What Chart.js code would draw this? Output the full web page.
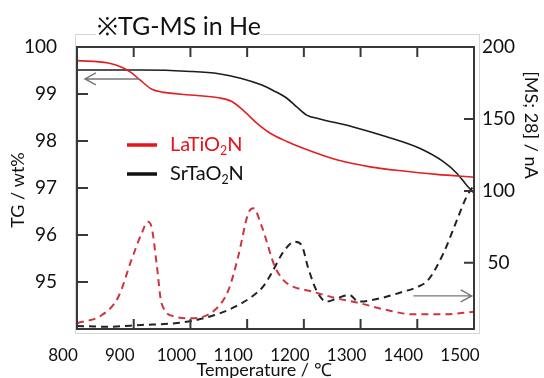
<!DOCTYPE html>
<html>
<head>
<meta charset="utf-8">
<title>TG-MS in He</title>
<style>
  body { margin: 0; background: #fff; }
  #wrap { width: 544px; height: 378px; }
</style>
</head>
<body>
<div id="wrap"><canvas id="tgChart" width="544" height="378"></canvas></div>
<script src="https://cdn.jsdelivr.net/npm/chart.js@4.4.1/dist/chart.umd.min.js"></script>
<script>
// values (temperature in deg C)
var tempLaTG = [800, 855, 879, 895, 911, 932, 950, 1000, 1050, 1073, 1096, 1117, 1140, 1170, 1200, 1258, 1317, 1375, 1434, 1500];
var laTG     = [99.71, 99.66, 99.57, 99.46, 99.30, 99.10, 99.04, 98.98, 98.92, 98.84, 98.62, 98.38, 98.17, 97.99, 97.84, 97.60, 97.45, 97.36, 97.29, 97.23];

var tempSrTG = [800, 914, 1000, 1050, 1090, 1126, 1145, 1170, 1187, 1205, 1228, 1287, 1346, 1405, 1446, 1470, 1487, 1500];
var srTG     = [99.51, 99.51, 99.48, 99.43, 99.33, 99.19, 99.08, 98.91, 98.73, 98.55, 98.47, 98.30, 98.09, 97.84, 97.56, 97.31, 97.06, 96.89];

var tempLaMS = [800, 844, 873, 896, 914, 925, 932, 941, 949, 973, 1002, 1043, 1067, 1084, 1102, 1111, 1126, 1149, 1164, 1181, 1211, 1258, 1299, 1346, 1393, 1446, 1500];
var laMS     = [8, 13.7, 26.4, 52, 70.5, 78.6, 74, 47.3, 21.9, 12.6, 11.4, 17.2, 31, 54, 84.4, 87.9, 75, 47.3, 38, 33.4, 30.4, 25.3, 21.9, 17.2, 14.2, 14.2, 16];

var tempSrMS = [800, 855, 914, 973, 1002, 1043, 1079, 1108, 1128, 1143, 1164, 1184, 1196, 1207, 1222, 1240, 1258, 1281, 1296, 1334, 1375, 1399, 1419, 1446, 1470, 1487, 1500];
var srMS     = [6.1, 5.6, 6.8, 8, 9.6, 13.7, 19.5, 26.4, 33.4, 42.7, 57.7, 64.7, 62.4, 47.3, 31, 23, 25.3, 27.6, 23, 25.3, 29.9, 33, 38, 56.6, 79.8, 96, 104];

var xTicks  = [800, 900, 1000, 1100, 1200, 1300, 1400, 1500];
var tgTicks = [95, 96, 97, 98, 99, 100];
var msTicks = [50, 100, 150, 200];

var seriesNames = ['LaTiO2N', 'SrTaO2N'];

// arrows: [from temp, to temp, axis value]
var arrowTG = [910, 814, 99.32];
var arrowMS = [1393, 1496, 27];

function pts(xs, ys) {
  return xs.map(function (x, i) { return {x: x, y: ys[i]}; });
}
function plain(v) { return String(v); }

// draws text, digits become subscripts
function subText(ctx, str, x, y, size) {
  var parts = str.match(/\d+|\D+/g);
  parts.forEach(function (p) {
    var sub = /\d/.test(p);
    ctx.font = (sub ? size * 0.62 : size) + 'px Lato';
    ctx.fillText(p, x, sub ? y + size * 0.28 : y);
    x += ctx.measureText(p).width;
  });
}

function arrow(ctx, x1, x2, y) {
  var d = x2 > x1 ? -1 : 1;
  ctx.beginPath();
  ctx.moveTo(x1, y); ctx.lineTo(x2, y);
  ctx.moveTo(x2 + d * 11, y - 6); ctx.lineTo(x2, y); ctx.lineTo(x2 + d * 11, y + 6);
  ctx.stroke();
}

var decor = {
  id: 'decor',
  beforeDraw: function (chart) {
    var ctx = chart.ctx, a = chart.chartArea;
    ctx.save();
    ctx.strokeStyle = '#d6d6d6';
    ctx.lineWidth = 1;
    ctx.strokeRect(a.left - 1.5, a.top - 12.5, a.right - a.left + 7, a.bottom - a.top + 17);
    ctx.restore();
  },
  afterDraw: function (chart) {
    var ctx = chart.ctx, a = chart.chartArea;
    var sx = chart.scales.x, st = chart.scales.yTG, sm = chart.scales.yMS;
    ctx.save();

    // frame + inward ticks
    ctx.strokeStyle = '#383838';
    ctx.lineWidth = 2;
    ctx.strokeRect(a.left, a.top, a.right - a.left, a.bottom - a.top);
    ctx.beginPath();
    xTicks.forEach(function (v) {
      var px = sx.getPixelForValue(v);
      ctx.moveTo(px, a.bottom); ctx.lineTo(px, a.bottom - 10);
      ctx.moveTo(px, a.top); ctx.lineTo(px, a.top + 10);
    });
    tgTicks.forEach(function (v) {
      var py = st.getPixelForValue(v);
      ctx.moveTo(a.left, py); ctx.lineTo(a.left + 11, py);
    });
    msTicks.forEach(function (v) {
      var py = sm.getPixelForValue(v);
      ctx.moveTo(a.right, py); ctx.lineTo(a.right - 10, py);
    });
    ctx.stroke();

    // arrows
    ctx.strokeStyle = '#777';
    ctx.lineWidth = 1.4;
    arrow(ctx, sx.getPixelForValue(arrowTG[0]), sx.getPixelForValue(arrowTG[1]), st.getPixelForValue(arrowTG[2]));
    arrow(ctx, sx.getPixelForValue(arrowMS[0]), sx.getPixelForValue(arrowMS[1]), sm.getPixelForValue(arrowMS[2]));

    // legend
    var legColors = ['#e8141c', '#111'];
    ctx.lineWidth = 3.5;
    ctx.textBaseline = 'middle';
    seriesNames.forEach(function (name, i) {
      var y = 145 + i * 29;
      ctx.strokeStyle = legColors[i];
      ctx.beginPath(); ctx.moveTo(127, y); ctx.lineTo(157, y); ctx.stroke();
      ctx.fillStyle = legColors[i];
      subText(ctx, name, 170, y, 20);
    });

    // title
    ctx.fillStyle = '#fff';
    ctx.fillRect(96, 10, 164, 30);
    ctx.fillStyle = '#111';
    ctx.font = '25px Lato';
    ctx.textAlign = 'left';
    ctx.fillText('※TG-MS in He', 97, 27);

    // axis titles
    ctx.font = '18px Lato';
    ctx.textAlign = 'center';
    ctx.fillText('Temperature / ℃', 264, 370);
    ctx.save();
    ctx.translate(18, 190);
    ctx.rotate(-Math.PI / 2);
    ctx.fillText('TG / wt%', 0, 0);
    ctx.restore();
    ctx.save();
    ctx.translate(531, 125);
    ctx.rotate(Math.PI / 2);
    ctx.fillText('[MS; 28] / nA', 0, 0);
    ctx.restore();

    ctx.restore();
  }
};

new Chart(document.getElementById('tgChart').getContext('2d'), {
  type: 'line',
  data: {
    datasets: [{
      label: seriesNames[0] + ' TG',
      data: pts(tempLaTG, laTG),
      yAxisID: 'yTG',
      borderColor: '#e3201f',
      borderWidth: 1.6
    }, {
      label: seriesNames[1] + ' TG',
      data: pts(tempSrTG, srTG),
      yAxisID: 'yTG',
      borderColor: '#1c1c1c',
      borderWidth: 1.6
    }, {
      label: seriesNames[0] + ' MS',
      data: pts(tempLaMS, laMS),
      yAxisID: 'yMS',
      borderColor: '#d0333f',
      borderDash: [7, 5],
      borderWidth: 2
    }, {
      label: seriesNames[1] + ' MS',
      data: pts(tempSrMS, srMS),
      yAxisID: 'yMS',
      borderColor: '#222',
      borderDash: [7, 5],
      borderWidth: 2
    }]
  },
  options: {
    responsive: false,
    animation: false,
    layout: { padding: { top: 47 } },
    elements: {
      point: { radius: 0 },
      line: { cubicInterpolationMode: 'monotone', fill: false }
    },
    plugins: { legend: { display: false }, tooltip: { enabled: false } },
    scales: {
      x: {
        type: 'linear',
        position: 'bottom',
        min: 800, max: 1500,
        afterFit: function (s) { s.height = 49; },
        afterBuildTicks: function (s) { s.ticks = xTicks.map(function (v) { return {value: v}; }); },
        grid: { display: false },
        border: { display: false },
        ticks: { color: '#111', padding: 8, labelOffset: -14, maxRotation: 0, callback: plain, font: { family: 'Lato', size: 17 } }
      },
      yTG: {
        position: 'left',
        min: 94, max: 100,
        afterFit: function (s) { s.width = 77; },
        afterBuildTicks: function (s) { s.ticks = tgTicks.map(function (v) { return {value: v}; }); },
        grid: { display: false },
        border: { display: false },
        ticks: { color: '#111', padding: 12, callback: plain, font: { family: 'Lato', size: 19 } }
      },
      yMS: {
        position: 'right',
        min: 4, max: 200,
        afterFit: function (s) { s.width = 70; },
        afterBuildTicks: function (s) { s.ticks = msTicks.map(function (v) { return {value: v}; }); },
        grid: { display: false },
        border: { display: false },
        ticks: { color: '#111', padding: 0, crossAlign: 'center', callback: plain, font: { family: 'Lato', size: 19 } }
      }
    }
  },
  plugins: [decor]
});
</script>
</body>
</html>
